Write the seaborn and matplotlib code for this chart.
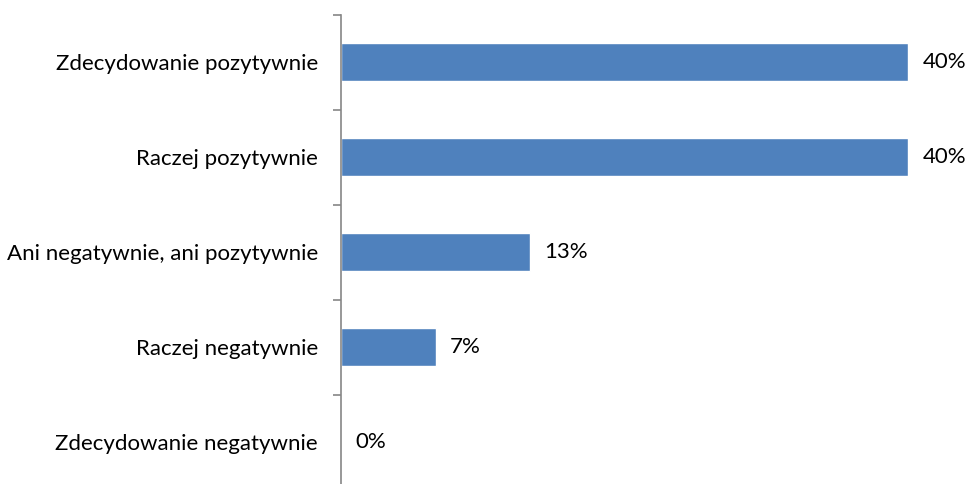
import numpy as np
import pandas as pd
import seaborn as sns
from matplotlib import pyplot as plt
from matplotlib.ticker import FixedLocator

plt.close('all')

# %% data (15 answers: 6, 6, 2, 1, 0)
categories = ['Zdecydowanie pozytywnie',
              'Raczej pozytywnie',
              'Ani negatywnie, ani pozytywnie',
              'Raczej negatywnie',
              'Zdecydowanie negatywnie']
counts = [6, 6, 2, 1, 0]
shares = [c / 15 for c in counts]
value_labels = ['40%', '40%', '13%', '7%', '0%']

dfData = pd.DataFrame({'Kategoria': categories, 'Udzial': shares})

# %% plot
sns.set_style('white')
plt.rcParams['font.family'] = ['Lato', 'DejaVu Sans']

fig = plt.figure(figsize=(9.67, 4.84), dpi=100)
W, H = 967, 484
ax = fig.add_axes([341 / W, (484 - 489.5) / H, (908 - 341) / W, 475 / H])

sns.barplot(data=dfData, y='Kategoria', x='Udzial', ax=ax,
            color='#4F81BD', saturation=1, width=0.4, orient='h')

ax.set_xlim(0, 0.4)
ax.set_ylim(4.5, -0.5)
ax.set_xlabel('')
ax.set_ylabel('')
ax.set_xticks([])

for s in ['top', 'right', 'bottom']:
    ax.spines[s].set_visible(False)
ax.spines['left'].set_color('#868686')
ax.spines['left'].set_linewidth(1.2)

# tick marks between categories, labels on categories
ax.yaxis.set_minor_locator(FixedLocator(np.arange(-0.5, 5, 1)))
ax.tick_params(axis='y', which='minor', length=6, width=1.2,
               color='#868686', left=True)
ax.tick_params(axis='y', which='major', length=0, pad=16.5,
               labelsize=16, labelcolor='#000000')

for i, (v, lab) in enumerate(zip(shares, value_labels)):
    ax.annotate(lab, xy=(v, i), xytext=(10.5, 0), textcoords='offset points',
                ha='left', va='center', fontsize=16, color='#000000',
                annotation_clip=False)

fig.savefig('out.png', dpi=100)
